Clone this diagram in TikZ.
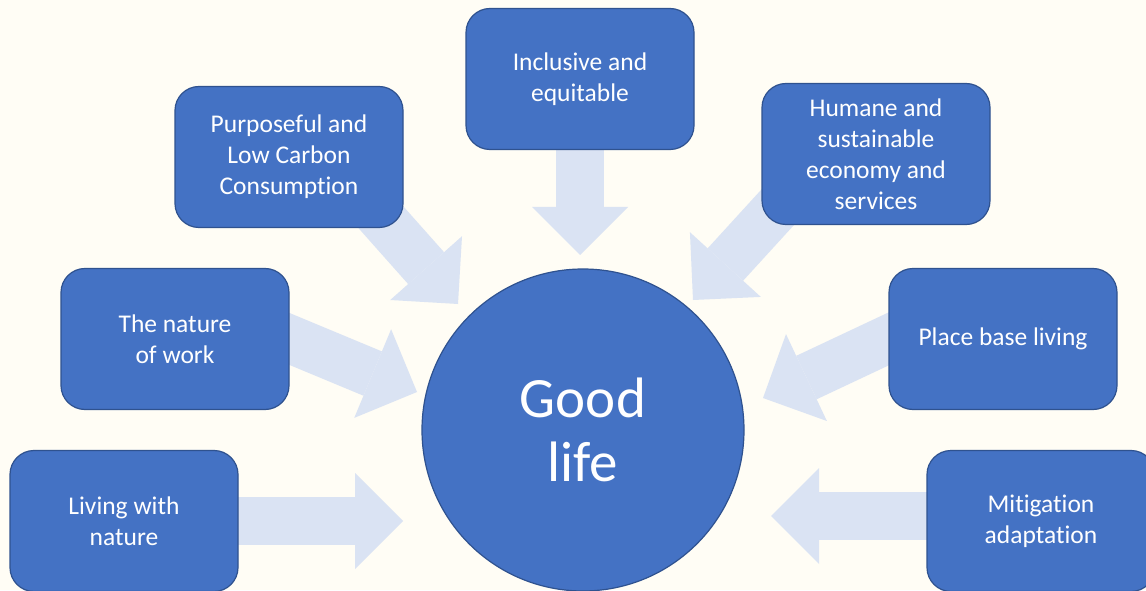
\documentclass[tikz,border=0pt]{standalone}
\usepackage{fontspec}
\setmainfont{Carlito}[Ligatures=NoCommon]
\usetikzlibrary{arrows.meta,backgrounds}
\definecolor{paper}{HTML}{FFFDF5}
\definecolor{boxblue}{HTML}{4472C4}
\definecolor{boxline}{HTML}{2F528F}
\definecolor{paleblue}{HTML}{DAE3F3}

\begin{document}
\begin{tikzpicture}[x=1pt, y=1pt,
    main/.style = {draw=boxline, line width=1.2pt, fill=boxblue, rounded corners=24pt,
        minimum width=228pt, minimum height=141pt, inner sep=2pt, align=center,
        text=white, font=\fontsize{25.5}{31}\selectfont},
    hub/.style = {draw=boxline, line width=1.2pt, fill=boxblue, circle, minimum size=322pt,
        align=center, text=white, font=\fontsize{57}{64}\selectfont},
    fat/.style = {color=paleblue, line width=48pt, shorten <=-30pt,
        -{Triangle[length=48pt, width=96pt, line width=0pt, fill=paleblue]}}]
    \useasboundingbox (0,0) rectangle (1146,590);

    \node[hub] (good) at (583,160) {Good\\life};

    \node[main] (purp) at (289,433) {Purposeful and\\Low Carbon\\Consumption};
    \node[main] (incl) at (580,511) {Inclusive and\\equitable};
    \node[main] (hum) at (876,436) {Humane and\\sustainable\\economy and\\services};
    \node[main] (work) at (175,251) {The nature\\of work};
    \node[main] (place) at (1003,251) {Place base living};
    \node[main] (live) at (124,69) {Living with\\nature};
    \node[main] (miti) at (1041,69) {Mitigation\\adaptation};

    % arrow heads stop short of the circle
    \coordinate (live-tip) at (403,69);
    \coordinate (work-tip) at (417,198);
    \coordinate (purp-tip) at (458,286);
    \coordinate (incl-tip) at (580,335);
    \coordinate (hum-tip) at (693,290);
    \coordinate (place-tip) at (763,192);
    \coordinate (miti-tip) at (771,74);

    \begin{scope}[on background layer]
        \fill[paper] (0,0) rectangle (1146,590);
        \draw[fat] (live.east) -- (live-tip);
        \draw[fat] (work.east) -- (work-tip);
        \draw[fat] (purp.-35) -- (purp-tip);
        \draw[fat] (incl.south) -- (incl-tip);
        \draw[fat] (hum.south west) -- (hum-tip);
        \draw[fat] (place.west) -- (place-tip);
        \draw[fat] (miti.west |- miti-tip) -- (miti-tip);
    \end{scope}
\end{tikzpicture}
\end{document}
